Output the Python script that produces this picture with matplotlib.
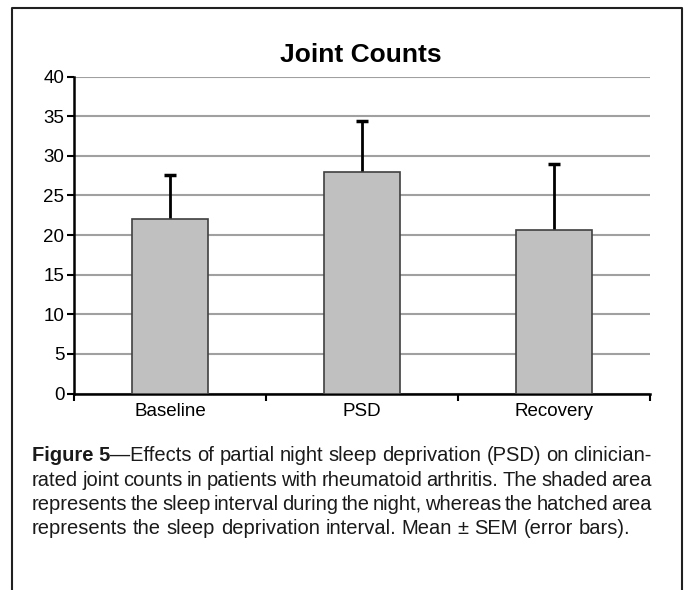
import numpy as np
import matplotlib
matplotlib.use("Agg")
import matplotlib.pyplot as plt
from matplotlib import font_manager
from matplotlib.lines import Line2D

# data
groups = ['Baseline', 'PSD', 'Recovery']
means = [22.0, 28.0, 20.6]
sem = [5.6, 6.4, 8.3]
yticks = [0, 5, 10, 15, 20, 25, 30, 35, 40]

caption_lines = [
    "Effects of partial night sleep deprivation (PSD) on clinician-",
    "rated joint counts in patients with rheumatoid arthritis. The shaded area",
    "represents the sleep interval during the night, whereas the hatched area",
    "represents the sleep deprivation interval. Mean \u00b1 SEM (error bars).",
]

names = {f.name for f in font_manager.fontManager.ttflist}
font = 'Liberation Sans Narrow' if 'Liberation Sans Narrow' in names else 'Liberation Sans'
plt.rcParams['font.family'] = [font, 'DejaVu Sans']

W, H = 684, 590
fig = plt.figure(figsize=(W / 100, H / 100), dpi=100)
ax = fig.add_axes([74 / W, 1 - 393.5 / H, 576 / W, 317 / H])

x = np.arange(len(groups))
tops = np.array(means) + np.array(sem)
ax.bar(x, means, width=0.4, color='#c0c0c0', edgecolor='#404040', linewidth=1.2, zorder=3)
# upper error bars only, cap at the top end
ax.vlines(x, means, tops, color='black', linewidth=2, zorder=2)
ax.plot(x, tops, linestyle='none', marker='_', markersize=9, markeredgewidth=2.5,
        color='black', zorder=4)

ax.set_xlim(-0.5, 2.5)
ax.set_ylim(0, 40)
ax.set_yticks(yticks)
ax.set_yticklabels([str(v) for v in yticks], fontsize=13.5)
ax.yaxis.grid(True, color='#a0a0a0', linewidth=1.5, zorder=0)
ax.set_axisbelow(True)

ax.set_xticks([-0.5, 0.5, 1.5, 2.5])
ax.set_xticklabels([])
ax.set_xticks(x, minor=True)
ax.set_xticklabels(groups, minor=True, fontsize=13.5)
ax.tick_params(axis='x', which='minor', length=0, pad=7)
ax.tick_params(axis='x', which='major', length=5, width=1.5, direction='out')
ax.tick_params(axis='y', length=5, width=1.5, direction='out', pad=2)

for s in ['top', 'right']:
    ax.spines[s].set_visible(False)
ax.spines['left'].set_linewidth(1.8)
ax.spines['bottom'].set_linewidth(1.8)

fig.text(361 / W, 1 - 55 / H, 'Joint Counts', ha='center', va='center',
         fontsize=19, fontweight='bold')

# frame around the figure, open at the bottom
fig.add_artist(Line2D([12 / W, 12 / W, 682 / W, 682 / W],
                      [0, 1 - 7.5 / H, 1 - 7.5 / H, 0],
                      transform=fig.transFigure, color='#202020', linewidth=1.5))

# justified caption
fig.canvas.draw()
r = fig.canvas.get_renderer()
x0, x1 = 32, 652
cap_size = 14.5
line_y = [461, 486, 510, 534]


def width_of(t, weight='normal'):
    tt = fig.text(0, 0, t, fontsize=cap_size, fontweight=weight)
    w = tt.get_window_extent(renderer=r).width
    tt.remove()
    return w


for i, line in enumerate(caption_lines):
    words = line.split(' ')
    if i == 0:
        # "Figure 5" in bold runs straight into the dash and first word
        units = [[('Figure 5', 'bold'), ('\u2014' + words[0], 'normal')]]
        units += [[(w, 'normal')] for w in words[1:]]
    else:
        units = [[(w, 'normal')] for w in words]
    uw = [sum(width_of(p, wt) for p, wt in u) for u in units]
    if i < 3:
        gap = (x1 - x0 - sum(uw)) / (len(units) - 1)
    else:
        gap = width_of('a b') - width_of('ab')
    xp = x0
    y = 1 - line_y[i] / H
    for u, w in zip(units, uw):
        xx = xp
        for p, wt in u:
            fig.text(xx / W, y, p, fontsize=cap_size, fontweight=wt, va='baseline', color='#1a1a1a')
            xx += width_of(p, wt)
        xp += w + gap

fig.savefig('out.png', dpi=100)
